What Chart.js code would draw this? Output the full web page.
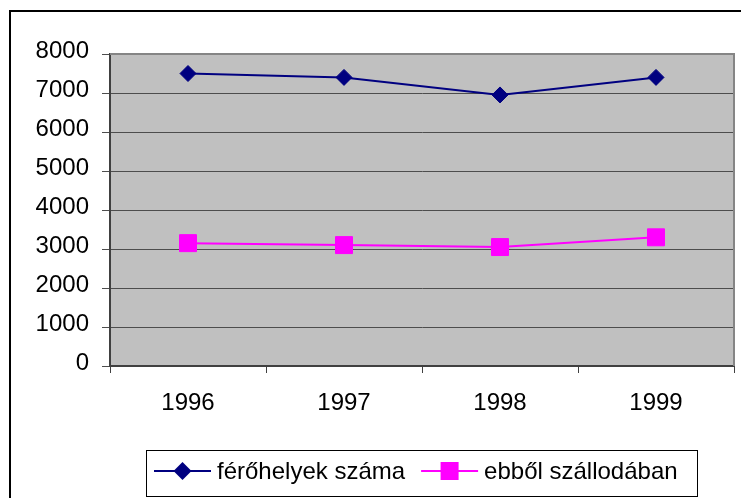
<!DOCTYPE html>
<html>
<head>
<meta charset="utf-8">
<script src="https://cdn.jsdelivr.net/npm/chart.js@4/dist/chart.umd.min.js"></script>
<style>
  html, body { margin: 0; padding: 0; background: #fff; }
  #wrap { position: relative; width: 741px; height: 498px; overflow: hidden; }
  canvas { position: absolute; left: 0; top: 0; }
</style>
</head>
<body>
<div id="wrap"><canvas id="c" width="741" height="498"></canvas></div>
<script>
const years = ['1996', '1997', '1998', '1999'];
const ferohelyek = [7500, 7400, 6950, 7400];
const szallodaban = [3150, 3100, 3050, 3300];
const seriesNames = ['férőhelyek száma', 'ebből szállodában'];
const yTicks = [0, 1000, 2000, 3000, 4000, 5000, 6000, 7000, 8000];

const FONT = 'Liberation Sans, Arial, sans-serif';

const decor = {
  id: 'decor',
  beforeDraw(chart) {
    const ctx = chart.ctx;
    const a = chart.chartArea;
    ctx.save();
    ctx.fillStyle = '#ffffff';
    ctx.fillRect(0, 0, chart.width, chart.height);
    // outer frame
    ctx.fillStyle = '#000000';
    ctx.fillRect(9, 10, chart.width, 2);
    ctx.fillRect(9, 10, 2, chart.height);
    // plot background
    ctx.fillStyle = '#c0c0c0';
    ctx.fillRect(a.left, a.top, a.right - a.left, a.bottom - a.top);
    ctx.restore();
  },
  afterDatasetsDraw(chart) {
    const ctx = chart.ctx;
    const a = chart.chartArea;
    ctx.save();
    // plot frame top/right
    ctx.fillStyle = '#858585';
    ctx.fillRect(a.left, a.top - 1, a.right - a.left + 1, 2);
    ctx.fillRect(a.right - 1, a.top - 1, 2, a.bottom - a.top + 1);
    ctx.restore();
  },
  afterDraw(chart) {
    const ctx = chart.ctx;
    ctx.save();
    // legend box
    const bx = 146, by = 450, bw = 552, bh = 47;
    ctx.fillStyle = '#fff';
    ctx.fillRect(bx, by, bw, bh);
    ctx.strokeStyle = '#000';
    ctx.lineWidth = 1;
    ctx.strokeRect(bx + 0.5, by + 0.5, bw - 1, bh - 1);
    const cy = 471;
    ctx.font = '24px ' + FONT;
    ctx.textBaseline = 'middle';
    ctx.textAlign = 'left';
    let x = 154;
    chart.data.datasets.forEach((ds, i) => {
      const lineLen = 57;
      ctx.strokeStyle = ds.borderColor;
      ctx.lineWidth = 2;
      ctx.beginPath();
      ctx.moveTo(x, cy);
      ctx.lineTo(x + lineLen, cy);
      ctx.stroke();
      const mx = x + lineLen / 2;
      ctx.fillStyle = ds.pointBackgroundColor;
      if (ds.pointStyle === 'rectRot') {
        const r = 9;
        ctx.beginPath();
        ctx.moveTo(mx, cy - r);
        ctx.lineTo(mx + r, cy);
        ctx.lineTo(mx, cy + r);
        ctx.lineTo(mx - r, cy);
        ctx.closePath();
        ctx.fill();
      } else {
        ctx.fillRect(mx - 9, cy - 9, 18, 18);
      }
      ctx.fillStyle = '#000';
      const tx = x + lineLen + 6;
      ctx.fillText(ds.label, tx, cy + 1);
      x = tx + ctx.measureText(ds.label).width + 16;
    });
    ctx.restore();
  }
};

new Chart(document.getElementById('c'), {
  type: 'line',
  data: {
    labels: years,
    datasets: [
      {
        label: seriesNames[0],
        data: ferohelyek,
        borderColor: '#000080',
        backgroundColor: '#000080',
        pointBackgroundColor: '#000080',
        pointBorderColor: '#000080',
        borderWidth: 2,
        pointStyle: 'rectRot',
        pointRadius: 8,
        pointBorderWidth: 1,
        tension: 0
      },
      {
        label: seriesNames[1],
        data: szallodaban,
        borderColor: '#ff00ff',
        backgroundColor: '#ff00ff',
        pointBackgroundColor: '#ff00ff',
        pointBorderColor: '#ff00ff',
        borderWidth: 2,
        pointStyle: 'rect',
        pointRadius: 12,
        pointBorderWidth: 1,
        tension: 0
      }
    ]
  },
  options: {
    responsive: false,
    animation: false,
    devicePixelRatio: 1,
    layout: { autoPadding: false, padding: { left: 0, top: 54, right: 7, bottom: 48 } },
    plugins: { legend: { display: false }, tooltip: { enabled: false } },
    scales: {
      x: {
        type: 'category',
        offset: true,
        grid: { offset: true, drawOnChartArea: false, color: '#404040', tickLength: 7, lineWidth: 1 },
        border: { color: '#404040', width: 2 },
        ticks: { color: '#000', font: { family: FONT, size: 24 }, padding: 16, maxRotation: 0 },
        afterFit(s) { s.height = 84; s.paddingLeft = 0; s.paddingRight = 0; }
      },
      y: {
        min: 0,
        max: 8000,
        afterBuildTicks(s) { s.ticks = yTicks.map(v => ({ value: v })); },
        grid: { color: '#4d4d4d', tickLength: 8, lineWidth: 1 },
        border: { color: '#404040', width: 2 },
        ticks: { color: '#000', font: { family: FONT, size: 24 }, padding: 13, labelOffset: -3,
                 callback: (v) => String(v) },
        afterFit(s) { s.width = 110; s.paddingTop = 0; s.paddingBottom = 0; }
      }
    }
  },
  plugins: [decor]
});
</script>
</body>
</html>
